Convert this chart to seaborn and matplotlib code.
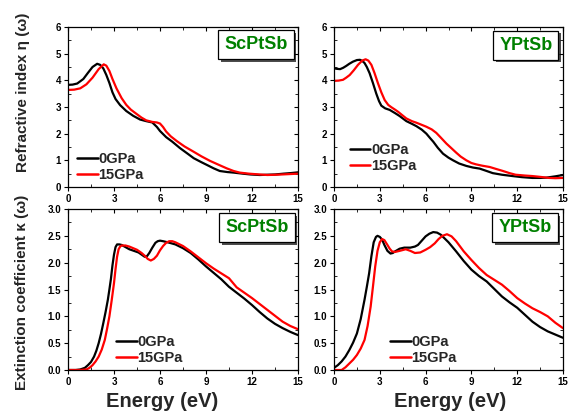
import numpy as np
import pandas as pd
import matplotlib
matplotlib.use("Agg")
import matplotlib.pyplot as plt
import matplotlib.patheffects as pe
from matplotlib.ticker import MultipleLocator, FormatStrFormatter
import seaborn as sns

# ---- data: photon energy (eV) and optical constants ----
# Refractive index, ScPtSb
sc_n_E0 = [0, 0.3, 0.6, 1.0, 1.3, 1.6, 1.9, 2.1, 2.3, 2.5, 2.7, 2.9, 3.1, 3.4, 3.8, 4.25,
           4.7, 5.1, 5.5, 5.8, 6.0, 6.4, 6.8, 7.3, 7.8, 8.2, 8.7, 9.05, 9.5, 9.9, 10.4,
           10.8, 11.4, 11.9, 12.5, 13.0, 13.5, 14.06, 14.5, 15]
sc_n_0 = [3.83, 3.84, 3.88, 4.05, 4.28, 4.5, 4.62, 4.58, 4.45, 4.2, 3.9, 3.55, 3.3, 3.07, 2.85,
          2.67, 2.53, 2.47, 2.42, 2.25, 2.1, 1.87, 1.7, 1.46, 1.25, 1.08, 0.93, 0.83, 0.7,
          0.6, 0.56, 0.54, 0.5, 0.47, 0.45, 0.46, 0.47, 0.5, 0.52, 0.55]
sc_n_E15 = [0, 0.4, 0.8, 1.2, 1.6, 2.0, 2.33, 2.5, 2.7, 2.9, 3.16, 3.5, 3.8, 4.1, 4.47, 4.8,
            5.1, 5.5, 5.8, 6.0, 6.2, 6.4, 6.7, 7.1, 7.6, 8.2, 8.7, 9.26, 9.8, 10.35, 10.8,
            11.2, 11.8, 12.5, 13.0, 13.6, 14.3, 15]
sc_n_15 = [3.64, 3.65, 3.7, 3.85, 4.1, 4.42, 4.6, 4.55, 4.35, 4.05, 3.7, 3.33, 3.08, 2.9, 2.74,
           2.6, 2.5, 2.44, 2.42, 2.38, 2.25, 2.08, 1.9, 1.72, 1.52, 1.32, 1.15, 0.98, 0.84,
           0.7, 0.6, 0.54, 0.5, 0.47, 0.45, 0.46, 0.48, 0.5]

# Refractive index, YPtSb
y_n_E0 = [0, 0.2, 0.4, 0.6, 0.8, 1.0, 1.24, 1.5, 1.7, 1.85, 2.0, 2.15, 2.33, 2.55, 2.77,
          2.95, 3.1, 3.35, 3.65, 4.0, 4.3, 4.74, 5.1, 5.4, 5.75, 6.05, 6.3, 6.5, 6.8, 7.14,
          7.5, 7.8, 8.2, 8.67, 9.1, 9.54, 10.0, 10.4, 11.0, 11.7, 12.3, 13.0, 13.5, 13.9,
          14.5, 15]
y_n_0 = [4.45, 4.43, 4.42, 4.47, 4.54, 4.62, 4.7, 4.76, 4.77, 4.73, 4.65, 4.5, 4.27, 3.9, 3.5,
         3.22, 3.05, 2.95, 2.89, 2.77, 2.66, 2.47, 2.37, 2.28, 2.15, 2.0, 1.83, 1.7, 1.47,
         1.25, 1.1, 1.0, 0.88, 0.79, 0.73, 0.69, 0.6, 0.52, 0.46, 0.41, 0.37, 0.34, 0.34,
         0.35, 0.4, 0.45]
y_n_E15 = [0, 0.3, 0.59, 0.8, 1.03, 1.3, 1.57, 1.85, 2.07, 2.25, 2.45, 2.65, 2.88, 3.1,
           3.32, 3.55, 3.76, 4.0, 4.2, 4.5, 4.74, 5.1, 5.4, 5.75, 6.05, 6.4, 6.7, 7.0, 7.36,
           7.7, 8.0, 8.3, 8.67, 9.0, 9.3, 9.7, 10.2, 10.6, 11.07, 11.5, 11.9, 12.5, 13.0,
           13.5, 14.1, 14.5, 15]
y_n_15 = [3.98, 3.99, 4.02, 4.1, 4.2, 4.38, 4.58, 4.74, 4.79, 4.74, 4.58, 4.28, 3.89, 3.55,
          3.26, 3.08, 2.99, 2.9, 2.82, 2.68, 2.57, 2.47, 2.41, 2.33, 2.26, 2.16, 2.03, 1.85,
          1.63, 1.45, 1.29, 1.14, 1.0, 0.9, 0.85, 0.8, 0.75, 0.68, 0.6, 0.52, 0.46, 0.43,
          0.41, 0.38, 0.34, 0.33, 0.34]

# Extinction coefficient, ScPtSb
sc_k_E0 = [0, 0.5, 0.8, 1.1, 1.3, 1.5, 1.7, 1.85, 2.0, 2.15, 2.3, 2.45, 2.6, 2.7, 2.8, 2.9,
           3.0, 3.1, 3.2, 3.35, 3.5, 3.75, 4.0, 4.3, 4.6, 4.8, 5.0, 5.15, 5.3, 5.5, 5.7,
           5.85, 6.0, 6.2, 6.5, 7.0, 7.5, 8.0, 8.5, 9.0, 9.5, 10.0, 10.5, 11.0, 11.5, 12.0,
           12.5, 13.0, 13.5, 14.0, 14.5, 15]
sc_k_0 = [0, 0.0, 0.01, 0.04, 0.09, 0.15, 0.25, 0.36, 0.5, 0.67, 0.87, 1.08, 1.31, 1.5, 1.7,
          1.95, 2.15, 2.29, 2.34, 2.34, 2.33, 2.29, 2.25, 2.22, 2.19, 2.15, 2.11, 2.12, 2.18,
          2.28, 2.37, 2.4, 2.41, 2.4, 2.38, 2.34, 2.27, 2.18, 2.06, 1.93, 1.81, 1.69, 1.55,
          1.44, 1.33, 1.21, 1.08, 0.96, 0.86, 0.78, 0.71, 0.65]
sc_k_E15 = [0, 0.8, 1.2, 1.4, 1.6, 1.8, 2.0, 2.2, 2.4, 2.55, 2.7, 2.85, 3.0, 3.1, 3.2, 3.3,
            3.4, 3.5, 3.75, 4.0, 4.5, 4.8, 5.0, 5.2, 5.4, 5.6, 5.8, 6.0, 6.2, 6.4, 6.6, 6.8,
            7.0, 7.5, 8.0, 8.5, 9.0, 9.5, 10.0, 10.5, 11.0, 11.5, 12.0, 12.5, 13.0, 13.5,
            14.0, 14.5, 15]
sc_k_15 = [0, 0.0, 0.01, 0.04, 0.09, 0.16, 0.25, 0.38, 0.56, 0.77, 1.0, 1.3, 1.62, 1.88, 2.11,
           2.25, 2.3, 2.32, 2.32, 2.3, 2.24, 2.18, 2.13, 2.07, 2.04, 2.07, 2.13, 2.23, 2.31,
           2.37, 2.4, 2.4, 2.38, 2.31, 2.21, 2.1, 1.99, 1.89, 1.8, 1.71, 1.54, 1.44, 1.34,
           1.23, 1.12, 1.01, 0.9, 0.82, 0.76]

# Extinction coefficient, YPtSb
y_k_E0 = [0, 0.25, 0.5, 0.75, 1.0, 1.25, 1.5, 1.75, 2.0, 2.15, 2.3, 2.45, 2.6, 2.75, 2.85,
          3.0, 3.15, 3.3, 3.5, 3.7, 3.85, 4.0, 4.3, 4.6, 5.0, 5.3, 5.5, 5.75, 6.0, 6.25, 6.5,
          6.75, 7.0, 7.25, 7.5, 8.0, 8.5, 9.0, 9.5, 10.0, 10.5, 11.0, 11.5, 12.0, 12.5, 13.0,
          13.5, 14.0, 14.5, 15]
y_k_0 = [0.04, 0.09, 0.16, 0.25, 0.37, 0.51, 0.68, 0.95, 1.31, 1.55, 1.8, 2.12, 2.38, 2.48,
         2.5, 2.48, 2.43, 2.33, 2.22, 2.17, 2.18, 2.21, 2.26, 2.28, 2.28, 2.3, 2.33, 2.41,
         2.49, 2.54, 2.57, 2.56, 2.52, 2.45, 2.38, 2.21, 2.03, 1.87, 1.75, 1.65, 1.51, 1.37,
         1.26, 1.16, 1.03, 0.9, 0.8, 0.72, 0.66, 0.6]
y_k_E15 = [0, 0.5, 0.75, 1.0, 1.25, 1.5, 1.75, 2.0, 2.2, 2.4, 2.55, 2.7, 2.85, 3.0, 3.15,
           3.3, 3.5, 3.65, 3.8, 4.0, 4.3, 4.7, 5.0, 5.3, 5.65, 6.0, 6.3, 6.6, 6.85, 7.1, 7.4,
           7.7, 8.0, 8.5, 9.0, 9.5, 10.0, 10.5, 11.0, 11.5, 12.0, 12.5, 13.0, 13.5, 14.0,
           14.5, 15]
y_k_15 = [0.0, 0.0, 0.05, 0.12, 0.19, 0.28, 0.4, 0.56, 0.82, 1.18, 1.55, 1.93, 2.22, 2.38,
          2.44, 2.42, 2.33, 2.26, 2.21, 2.2, 2.22, 2.25, 2.22, 2.18, 2.19, 2.24, 2.29, 2.36,
          2.44, 2.5, 2.53, 2.49, 2.4, 2.21, 2.05, 1.9, 1.77, 1.68, 1.59, 1.47, 1.34, 1.24,
          1.15, 1.08, 1.0, 0.88, 0.78]

pressures = ["0GPa", "15GPa"]
compounds = ["ScPtSb", "YPtSb"]
x_ticks = [0, 3, 6, 9, 12, 15]
n_ticks = [0, 1, 2, 3, 4, 5, 6]
k_ticks = [0.0, 0.5, 1.0, 1.5, 2.0, 2.5, 3.0]


def frame(E0, v0, E15, v15):
    return pd.DataFrame({
        "E": list(E0) + list(E15),
        "v": list(v0) + list(v15),
        "P": [pressures[0]] * len(E0) + [pressures[1]] * len(E15),
    })


panels = [
    frame(sc_n_E0, sc_n_0, sc_n_E15, sc_n_15),
    frame(y_n_E0, y_n_0, y_n_E15, y_n_15),
    frame(sc_k_E0, sc_k_0, sc_k_E15, sc_k_15),
    frame(y_k_E0, y_k_0, y_k_E15, y_k_15),
]

sns.set_style("ticks")
plt.rcParams["font.family"] = ["Liberation Sans", "DejaVu Sans"]
plt.rcParams["font.weight"] = "bold"

W, H = 568, 419
fig = plt.figure(figsize=(W / 100, H / 100), dpi=100)


def px_axes(x0, x1, y0, y1):
    return fig.add_axes([x0 / W, 1 - y1 / H, (x1 - x0) / W, (y1 - y0) / H])


boxes = [
    px_axes(68, 298, 27, 187),
    px_axes(334, 563, 27, 187),
    px_axes(68, 298, 209, 370),
    px_axes(334, 563, 209, 370),
]

legend_pos = [(0.04, 0.03), (0.07, 0.085), (0.21, 0.03), (0.245, 0.03)]
label_pos = [(0.817, 0.89), (0.838, 0.887), (0.822, 0.885), (0.834, 0.885)]
palette = {pressures[0]: "black", pressures[1]: "#ff0000"}

for i, (ax, df) in enumerate(zip(boxes, panels)):
    sns.lineplot(data=df, x="E", y="v", hue="P", palette=palette, sort=False,
                 estimator=None, linewidth=1.6, ax=ax)
    ax.set_xlim(0, 15)
    ax.set_xticks(x_ticks)
    ax.xaxis.set_minor_locator(MultipleLocator(1.5))
    if i < 2:
        ax.set_ylim(0, 6)
        ax.set_yticks(n_ticks)
        ax.yaxis.set_minor_locator(MultipleLocator(0.5))
    else:
        ax.set_ylim(0, 3)
        ax.set_yticks(k_ticks)
        ax.yaxis.set_major_formatter(FormatStrFormatter("%.1f"))
        ax.yaxis.set_minor_locator(MultipleLocator(0.25))
    ax.set_xlabel("")
    ax.set_ylabel("")
    for s in ax.spines.values():
        s.set_visible(True)
        s.set_linewidth(0.9)
        s.set_color("black")
    ax.tick_params(which="major", direction="out", length=3, width=0.8,
                   labelsize=7, pad=2, colors="black")
    ax.tick_params(which="minor", direction="in", length=2, width=0.7)
    ax.tick_params(which="both", top=True, right=True)
    for t in ax.get_xticklabels() + ax.get_yticklabels():
        t.set_fontweight("bold")

    leg = ax.legend(loc="lower left", bbox_to_anchor=legend_pos[i], frameon=False,
                    handlelength=1.4, handletextpad=0.05, labelspacing=0.15,
                    borderpad=0, borderaxespad=0,
                    prop={"size": 10.5, "weight": "bold"})
    for h in leg.legend_handles:
        h.set_linewidth(1.8)

    lx, ly = label_pos[i]
    txt = ax.text(lx, ly, compounds[i % 2], transform=ax.transAxes, ha="center",
                  va="center", fontsize=13, fontweight="bold", color="#008000",
                  bbox=dict(boxstyle="square,pad=0.33", fc="white", ec="black", lw=0.9))
    txt.get_bbox_patch().set_path_effects([
        pe.SimplePatchShadow(offset=(2, -2), shadow_rgbFace="black", alpha=0.7),
        pe.Normal(),
    ])

# right-hand ticks and top ticks point into the frame
for ax in boxes:
    for tk in ax.xaxis.get_major_ticks():
        tk.tick2line.set_marker(3)
    for tk in ax.yaxis.get_major_ticks():
        tk.tick2line.set_marker(0)

fig.text(23 / W, 1 - 92 / H, "Refractive index \u03b7 (\u03c9)", rotation=90,
         ha="center", va="center", fontsize=11, fontweight="bold")
fig.text(22 / W, 1 - 292 / H, "Extinction coefficient \u03ba (\u03c9)", rotation=90,
         ha="center", va="center", fontsize=11, fontweight="bold")
fig.text(162 / W, 1 - 407 / H, "Energy (eV)", ha="center", va="baseline",
         fontsize=14.5, fontweight="bold")
fig.text(450 / W, 1 - 407 / H, "Energy (eV)", ha="center", va="baseline",
         fontsize=14.5, fontweight="bold")

fig.savefig("out.png", dpi=100)
